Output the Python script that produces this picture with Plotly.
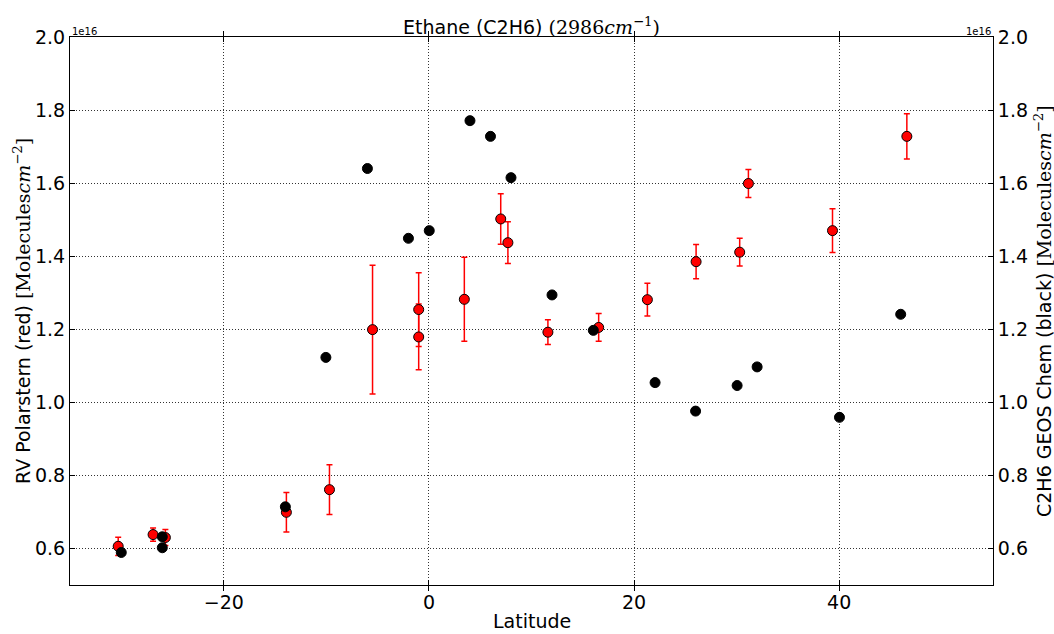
import plotly.graph_objects as go

# Data (values in units of 1e16 molecules cm^-2)
red_lat = [-30.3, -26.9, -25.7, -13.9, -9.7, -5.5, -1.0, -1.0, 3.45, 7.0, 7.7,
           11.6, 16.55, 21.3, 26.05, 30.3, 31.15, 39.35, 46.6]
red_val = [0.606, 0.638, 0.630, 0.699, 0.761, 1.199, 1.254, 1.179, 1.282, 1.502, 1.437,
           1.192, 1.205, 1.281, 1.385, 1.411, 1.599, 1.470, 1.728]
red_err = [0.025, 0.018, 0.022, 0.054, 0.068, 0.176, 0.101, 0.090, 0.115, 0.069, 0.057,
           0.034, 0.038, 0.045, 0.047, 0.038, 0.038, 0.060, 0.062]

black_lat = [-30.0, -26.0, -26.0, -14.0, -10.05, -6.0, -2.0, 0.03, 4.0, 6.0, 8.0,
             12.0, 16.03, 22.05, 26.0, 30.05, 32.0, 40.03, 46.0]
black_val = [0.589, 0.632, 0.602, 0.714, 1.123, 1.640, 1.449, 1.470, 1.771, 1.728, 1.615,
             1.294, 1.197, 1.054, 0.976, 1.046, 1.097, 0.959, 1.241]

x_ticks = [-20, 0, 20, 40]
y_ticks = [0.6, 0.8, 1.0, 1.2, 1.4, 1.6, 1.8, 2.0]

FONT = "DejaVu Sans"
SERIF = "DejaVu Serif, Liberation Serif, serif"

fig = go.Figure()

fig.add_trace(go.Scatter(
    x=black_lat, y=black_val, mode="markers", yaxis="y2",
    marker=dict(color="black", size=10, line=dict(color="black", width=1)),
    showlegend=False,
))
fig.add_trace(go.Scatter(
    x=red_lat, y=red_val, mode="markers", yaxis="y",
    marker=dict(color="red", size=10, line=dict(color="black", width=1)),
    error_y=dict(type="data", array=red_err, visible=True, color="red",
                 thickness=1.5, width=3),
    showlegend=False,
))

axis_common = dict(
    showline=True, linecolor="black", linewidth=1,
    ticks="inside", ticklen=5, tickcolor="black",
    showgrid=True, gridcolor="#333333", griddash="1px,2px", gridwidth=1,
    zeroline=False, automargin=False,
    tickfont=dict(family=FONT, size=19, color="black"),
)

math_unit = ('<span style="font-family:' + SERIF + '">[Molecules<i>cm</i>'
             '<sup>−2</sup>]</span>')

title_font = dict(family=FONT, size=19, color="black")

fig.update_layout(
    width=1054, height=634,
    margin=dict(l=70, r=61, t=37, b=49),
    plot_bgcolor="white", paper_bgcolor="white",
    font=dict(family=FONT, color="black"),
    xaxis=dict(range=[-35, 55], tickvals=x_ticks, mirror="allticks", **axis_common),
    yaxis=dict(range=[0.5, 2.0], tickvals=y_ticks, tickformat=".1f", mirror=True,
               **axis_common),
    yaxis2=dict(
        range=[0.5, 2.0], tickvals=y_ticks, tickformat=".1f",
        overlaying="y", side="right",
        **{k: v for k, v in axis_common.items() if k != "showgrid"},
        showgrid=False,
    ),
    annotations=[
        dict(text='Ethane (C2H6) <span style="font-family:' + SERIF + '">(2986<i>cm</i><sup>−1</sup>)</span>',
             x=0.5, xref="paper", y=1.0, yref="paper", yanchor="bottom", yshift=-3,
             showarrow=False, font=dict(family=FONT, size=19, color="black")),
        dict(text="Latitude", x=0.5, xref="paper", y=0, yref="paper",
             yanchor="middle", yshift=-36, showarrow=False, font=title_font),
        dict(text="RV Polarstern (red) " + math_unit, x=0, xref="paper",
             y=0.5, yref="paper", xanchor="center", yanchor="middle", xshift=-48,
             textangle=-90, showarrow=False, font=title_font),
        dict(text="C2H6 GEOS Chem (black) " + math_unit, x=1, xref="paper",
             y=0.5, yref="paper", xanchor="center", yanchor="middle", xshift=50,
             textangle=-90, showarrow=False, font=title_font),
        dict(text="1e16", x=0, xref="paper", y=1, yref="paper",
             xanchor="left", yanchor="bottom", showarrow=False, yshift=-2,
             font=dict(family=FONT, size=10, color="black")),
        dict(text="1e16", x=1, xref="paper", y=1, yref="paper",
             xanchor="right", yanchor="bottom", showarrow=False, yshift=-2,
             font=dict(family=FONT, size=10, color="black")),
    ],
)

fig.write_html("out.html")
